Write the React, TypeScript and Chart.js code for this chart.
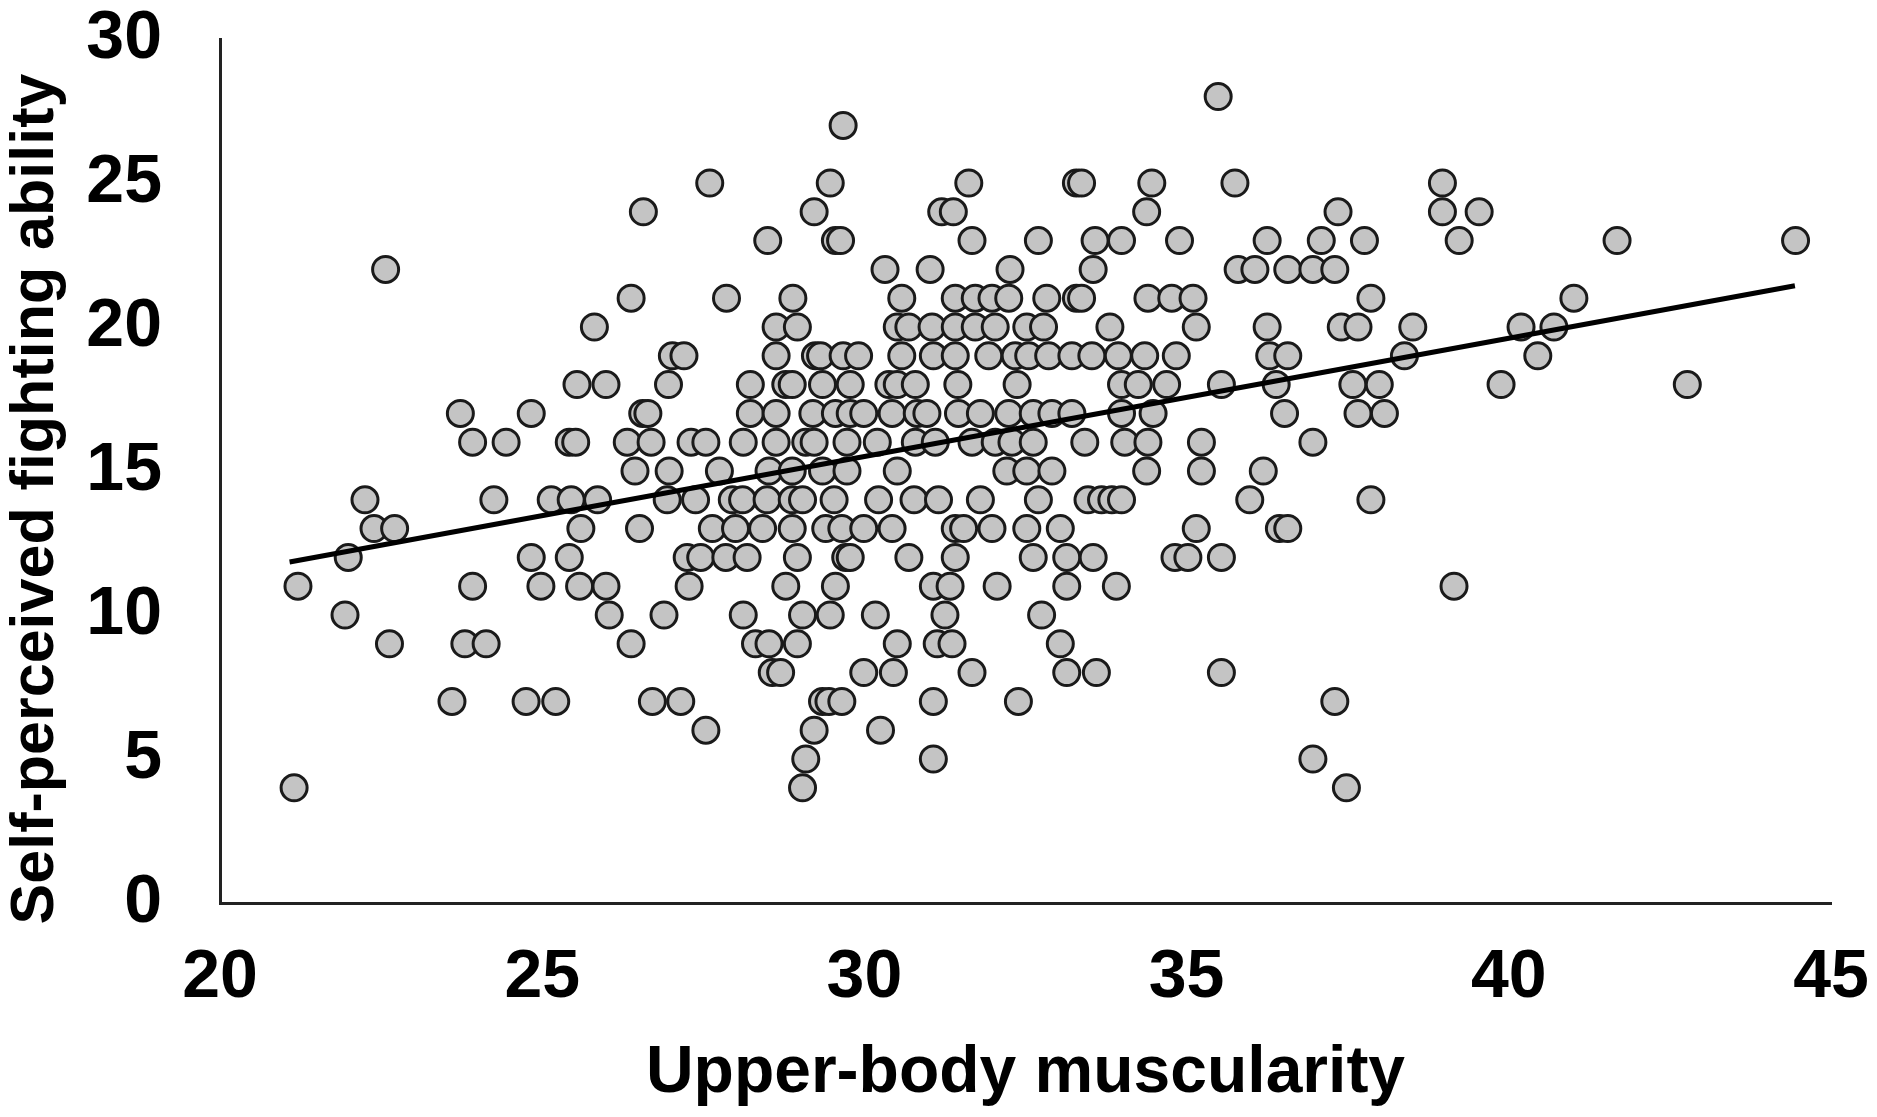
import React, { useEffect, useRef } from 'react';
import Chart from 'chart.js/auto';

// self-perceived fighting ability score (y) for each row below
const abilityLevels = [28, 27, 25, 24, 23, 22, 21, 20, 19, 18, 17, 16, 15, 14, 13, 12, 11, 10, 9, 8, 7, 6, 5, 4];

// upper-body muscularity (x) of every participant sharing that score
const muscularityAtLevel = [
  [35.49],
  [29.67],
  [27.6, 29.47, 31.62, 33.29, 33.37, 34.46, 35.75, 38.97],
  [26.57, 29.22, 31.2, 31.38, 34.38, 37.35, 38.97, 39.54],
  [28.5, 29.55, 29.63, 31.67, 32.7, 33.58, 33.99, 34.89, 36.25, 37.09, 37.76, 39.23, 41.68, 44.45],
  [22.57, 30.32, 31.02, 32.26, 33.55, 35.8, 36.06, 36.57, 36.96, 37.3],
  [26.38, 27.86, 28.89, 30.58, 31.41, 31.72, 31.98, 32.24, 32.83, 33.29, 33.37, 34.4, 34.77, 35.1, 37.86, 41.01],
  [25.81, 28.63, 28.96, 30.51, 30.69, 31.05, 31.41, 31.72, 32.03, 32.52, 32.78, 33.81, 35.15, 36.25, 37.4, 37.66, 38.51, 40.19, 40.7],
  [27.02, 27.2, 28.63, 29.24, 29.32, 29.67, 29.91, 30.58, 31.07, 31.41, 31.93, 32.34, 32.55, 32.86, 33.22, 33.53, 33.94, 34.35, 34.84, 36.29, 36.57, 38.38, 40.45],
  [25.54, 25.99, 26.96, 28.23, 28.78, 28.88, 29.35, 29.78, 30.38, 30.51, 30.79, 31.45, 32.37, 33.99, 34.25, 34.69, 35.54, 36.39, 37.58, 37.99, 39.88, 42.77],
  [23.73, 24.83, 26.56, 26.64, 28.23, 28.63, 29.2, 29.55, 29.78, 29.99, 30.43, 30.82, 30.97, 31.46, 31.8, 32.24, 32.62, 32.91, 33.22, 33.99, 34.48, 36.52, 37.66, 38.07],
  [23.92, 24.44, 25.42, 25.52, 26.32, 26.69, 27.31, 27.54, 28.12, 28.63, 29.09, 29.22, 29.73, 30.2, 30.79, 31.1, 31.67, 32.03, 32.29, 32.62, 33.42, 34.04, 34.4, 35.23, 36.96],
  [26.44, 26.97, 27.75, 28.52, 28.88, 29.35, 29.73, 30.51, 32.21, 32.52, 32.91, 34.38, 35.23, 36.19],
  [22.25, 24.25, 25.14, 25.45, 25.86, 26.94, 27.38, 27.95, 28.11, 28.49, 28.88, 29.04, 29.53, 30.22, 30.77, 31.15, 31.8, 32.7, 33.47, 33.68, 33.84, 33.99, 35.98, 37.86],
  [22.39, 22.71, 25.6, 26.51, 27.64, 28.0, 28.42, 28.88, 29.4, 29.65, 29.99, 30.43, 31.41, 31.54, 31.98, 32.52, 33.04, 35.15, 36.44, 36.57],
  [21.99, 24.83, 25.42, 27.25, 27.46, 27.85, 28.18, 28.96, 29.71, 29.78, 30.69, 31.41, 32.62, 33.14, 33.55, 34.82, 35.02, 35.54],
  [21.21, 23.92, 24.98, 25.58, 25.99, 27.28, 28.78, 29.55, 31.07, 31.33, 32.06, 33.14, 33.91, 39.15],
  [21.94, 26.04, 26.89, 28.12, 29.04, 29.47, 30.17, 31.25, 32.75],
  [22.63, 23.8, 24.13, 26.38, 28.31, 28.52, 28.96, 30.51, 31.13, 31.36, 33.04],
  [28.57, 28.7, 29.99, 30.45, 31.67, 33.14, 33.6, 35.54],
  [23.6, 24.75, 25.21, 26.71, 27.15, 29.35, 29.45, 29.65, 31.07, 32.39, 37.3],
  [27.54, 29.22, 30.25],
  [29.09, 31.07, 36.96],
  [21.15, 29.04, 37.48],
];

// fitted regression line end points
const trendX = [21.08, 44.44];
const trendY = [11.84, 21.43];

const xRange = [20, 45];
const yRange = [0, 30];

const xTitle = 'Upper-body muscularity';
const yTitle = 'Self-perceived fighting ability';

const FONT = "'Liberation Sans', Arial, sans-serif";

// y title sits a little below the middle of the plot in the original
const yTitlePlugin = {
  id: 'yTitle',
  afterDraw(chart: Chart) {
    const { ctx, chartArea } = chart;
    ctx.save();
    ctx.translate(36, (chartArea.top + chartArea.bottom) / 2 + 28);
    ctx.rotate(-Math.PI / 2);
    ctx.font = `bold 61px ${FONT}`;
    ctx.fillStyle = '#000';
    ctx.textAlign = 'center';
    ctx.textBaseline = 'middle';
    ctx.fillText(yTitle, 0, 0);
    ctx.restore();
  },
};

export default function App() {
  const canvasRef = useRef<HTMLCanvasElement>(null);
  const chartRef = useRef<Chart>();

  useEffect(() => {
    if (!canvasRef.current) return;
    if (chartRef.current) chartRef.current.destroy();

    const points = abilityLevels.flatMap((y, i) => muscularityAtLevel[i].map(x => ({ x, y })));
    const trend = trendX.map((x, i) => ({ x, y: trendY[i] }));

    chartRef.current = new Chart(canvasRef.current, {
      type: 'scatter',
      data: {
        datasets: [
          {
            label: 'fit',
            data: trend,
            showLine: true,
            borderColor: '#000',
            borderWidth: 5,
            pointRadius: 0,
            order: 0,
          },
          {
            label: 'participants',
            data: points,
            pointRadius: 13,
            pointBackgroundColor: '#c4c4c4',
            pointBorderColor: '#1a1a1a',
            pointBorderWidth: 3,
            order: 1,
          },
        ],
      },
      plugins: [yTitlePlugin],
      options: {
        responsive: true,
        maintainAspectRatio: false,
        animation: false,
        layout: { padding: { top: 39, right: 46, bottom: 0, left: 0 } },
        plugins: { legend: { display: false }, tooltip: { enabled: false } },
        scales: {
          x: {
            type: 'linear',
            min: xRange[0],
            max: xRange[1],
            afterFit: scale => {
              scale.height = 214;
              scale.paddingLeft = 0;
              scale.paddingRight = 0;
            },
            grid: { display: false, drawTicks: false },
            border: { display: true, color: '#222', width: 3 },
            ticks: {
              stepSize: 5,
              padding: 34,
              color: '#000',
              font: { family: FONT, size: 68, weight: 'bold' },
            },
            title: {
              display: true,
              text: xTitle,
              color: '#000',
              padding: { top: 0, bottom: 4 },
              font: { family: FONT, size: 66, weight: 'bold', lineHeight: 1.2 },
            },
          },
          y: {
            type: 'linear',
            min: yRange[0],
            max: yRange[1],
            afterFit: scale => {
              scale.width = 220;
              scale.paddingTop = 0;
              scale.paddingBottom = 0;
            },
            grid: { display: false, drawTicks: false },
            border: { display: true, color: '#222', width: 3 },
            ticks: {
              stepSize: 5,
              padding: 58,
              color: '#000',
              font: { family: FONT, size: 68, weight: 'bold' },
            },
            title: { display: false },
          },
        },
      },
    });

    return () => {
      if (chartRef.current) {
        chartRef.current.destroy();
        chartRef.current = undefined;
      }
    };
  }, []);

  return (
    <div style={{ position: 'absolute', left: 0, top: 0, width: 1877, height: 1117, background: '#fff' }}>
      <canvas ref={canvasRef} />
    </div>
  );
}
